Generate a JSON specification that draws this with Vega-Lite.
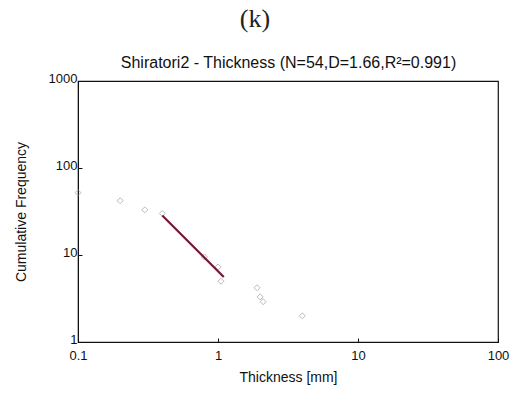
{
  "$schema": "https://vega.github.io/schema/vega-lite/v6.json",
  "autosize": {"type": "none"},
  "padding": {"left": 78, "top": 81, "right": 12, "bottom": 52},
  "width": 420,
  "height": 261,
  "background": "white",
  "title": {
    "text": "(k)",
    "font": "Liberation Serif",
    "fontSize": 26,
    "fontWeight": "normal",
    "color": "#222",
    "anchor": "middle",
    "dx": -33,
    "offset": 22
  },
  "config": {
    "view": {"stroke": "#111", "strokeWidth": 1.2},
    "axis": {
      "labelFont": "Liberation Sans",
      "titleFont": "Liberation Sans",
      "labelColor": "#111",
      "titleColor": "#111",
      "titleFontWeight": "normal",
      "grid": false,
      "labelFlush": false,
      "domainColor": "#111",
      "tickColor": "#111"
    }
  },
  "layer": [
    {
      "data": {
        "values": [
          {"thickness": 0.1, "freq": 52},
          {"thickness": 0.2, "freq": 42},
          {"thickness": 0.3, "freq": 33},
          {"thickness": 0.4, "freq": 30},
          {"thickness": 0.8, "freq": 9.5},
          {"thickness": 1.0, "freq": 7.3},
          {"thickness": 1.05, "freq": 5},
          {"thickness": 1.9, "freq": 4.2},
          {"thickness": 2.0, "freq": 3.3},
          {"thickness": 2.1, "freq": 2.9},
          {"thickness": 4.0, "freq": 2}
        ]
      },
      "mark": {"type": "point", "shape": "diamond", "filled": false, "stroke": "#a0a0a0", "strokeWidth": 1, "size": 36},
      "encoding": {
        "x": {
          "field": "thickness",
          "type": "quantitative",
          "scale": {"type": "log", "domain": [0.1, 100], "nice": false},
          "axis": {
            "orient": "bottom",
            "values": [0.1, 1, 10, 100],
            "format": "~g",
            "labelFontSize": 13,
            "labelPadding": 11,
            "tickSize": -4,
            "title": "Thickness [mm]",
            "titleFontSize": 14,
            "titlePadding": 8
          }
        },
        "y": {
          "field": "freq",
          "type": "quantitative",
          "scale": {"type": "log", "domain": [1, 1000], "nice": false},
          "axis": {
            "values": [1, 10, 100, 1000],
            "format": "~g",
            "labelFontSize": 13,
            "labelPadding": 5,
            "labelOffset": -3,
            "tickSize": -4,
            "title": "Cumulative Frequency",
            "titleFontSize": 14,
            "titlePadding": 20
          }
        }
      }
    },
    {
      "data": {"values": [{"thickness": 0.4, "freq": 28.5}, {"thickness": 1.1, "freq": 5.6}]},
      "mark": {"type": "line", "color": "#7b1535", "strokeWidth": 2.2},
      "encoding": {
        "x": {
          "field": "thickness",
          "type": "quantitative",
          "axis": {
            "orient": "top",
            "labels": false,
            "ticks": false,
            "domain": false,
            "title": "Shiratori2 - Thickness (N=54,D=1.66,R²=0.991)",
            "titleFontSize": 16,
            "titlePadding": 11
          }
        },
        "y": {"field": "freq", "type": "quantitative"}
      }
    }
  ],
  "resolve": {"axis": {"x": "independent"}}
}
